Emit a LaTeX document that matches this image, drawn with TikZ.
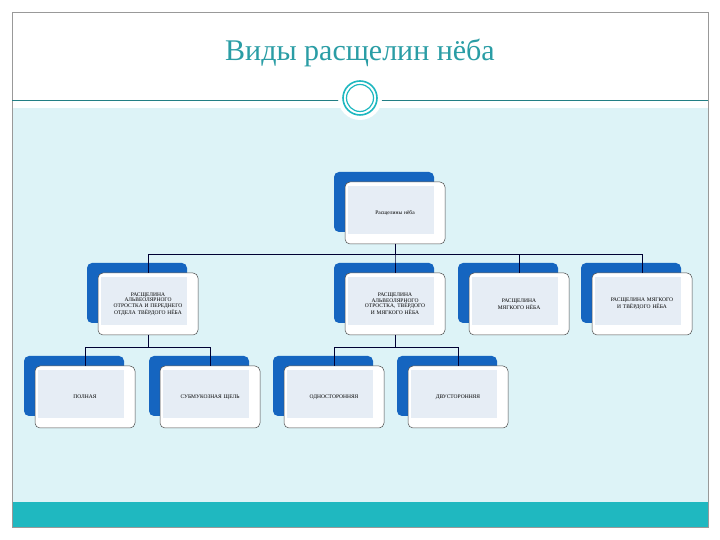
\documentclass[tikz,border=0pt]{standalone}
\usepackage{fontspec}
\setmainfont{Liberation Serif}
\definecolor{teal1}{HTML}{1FB8C0}
\definecolor{bgblue}{HTML}{DDF3F7}
\definecolor{boxblue}{HTML}{1565C0}
\definecolor{innerf}{HTML}{E6EDF5}
\definecolor{titlec}{HTML}{2A9DA5}
\tikzset{
 backbox/.style={fill=boxblue,rounded corners=5pt},
 frontbox/.style={fill=white,draw=black!70,line width=0.5pt,rounded corners=5pt},
 innerbox/.style={fill=innerf},
 lbl/.style={font=\fontsize{5.5}{5.5}\selectfont,align=center,text width=78pt,inner sep=0pt},
 conn/.style={draw=black!80!blue,line width=0.5pt}
}
\newcommand\mybox[4]{%
 \fill[backbox] (#2,#3) rectangle ++(100,-60);
 \draw[frontbox] (#2+11,#3-10) rectangle ++(100,-62);
 \fill[innerbox] (#2+14,#3-14) rectangle ++(86,-48);
 \node[lbl] (#1) at (#2+61,#3-41) {#4};
 \coordinate (#1t) at (#2+61,#3-10);
 \coordinate (#1b) at (#2+61,#3-72);
}
\begin{document}
\begin{tikzpicture}[x=1pt,y=1pt]
\useasboundingbox (0,0) rectangle (720,540);
% frame (y measured from bottom: ypix -> 540-ypix)
\fill[white] (0,0) rectangle (720,540);
\fill[bgblue] (12,13) rectangle (708,432);
\fill[teal1] (12,13) rectangle (708,38);
\draw[black!40] (12,13) rectangle (708,528);
\draw[titlec!80!black,line width=0.6pt] (12,440) -- (708,440);
\node[font=\fontsize{30}{30}\selectfont,text=titlec] (title) at (360,487) {Виды расщелин нёба};
\node[circle,fill=white,minimum size=44pt] (circ) at (360,442) {};
\draw[teal1,line width=1.6pt] (circ.center) circle (17);
\draw[teal1,line width=1.2pt] (circ.center) circle (13.5);
% boxes
\mybox{root}{334}{368}{Расщелины нёба}
\mybox{a}{87}{277}{РАСЩЕЛИНА АЛЬВЕОЛЯРНОГО ОТРОСТКА И ПЕРЕДНЕГО ОТДЕЛА ТВЁРДОГО НЁБА}
\mybox{b}{334}{277}{РАСЩЕЛИНА АЛЬВЕОЛЯРНОГО ОТРОСТКА, ТВЁРДОГО И МЯГКОГО НЁБА}
\mybox{c}{458}{277}{РАСЩЕЛИНА МЯГКОГО НЁБА}
\mybox{d}{581}{277}{РАСЩЕЛИНА МЯГКОГО И ТВЁРДОГО НЁБА}
\mybox{e}{24}{184}{ПОЛНАЯ}
\mybox{f}{149}{184}{СУБМУКОЗНАЯ ЩЕЛЬ}
\mybox{g}{273}{184}{ОДНОСТОРОННЯЯ}
\mybox{h}{397}{184}{ДВУСТОРОННЯЯ}
% connectors
\draw[conn] (rootb) -- ++(0,-10) -| (at);
\draw[conn] (rootb) -- ++(0,-10) -| (bt);
\draw[conn] (rootb) -- ++(0,-10) -| (ct);
\draw[conn] (rootb) -- ++(0,-10) -| (dt);
\draw[conn] (ab) -- ++(0,-12) -| (et);
\draw[conn] (ab) -- ++(0,-12) -| (ft);
\draw[conn] (bb) -- ++(0,-12) -| (gt);
\draw[conn] (bb) -- ++(0,-12) -| (ht);
\end{tikzpicture}
\end{document}
